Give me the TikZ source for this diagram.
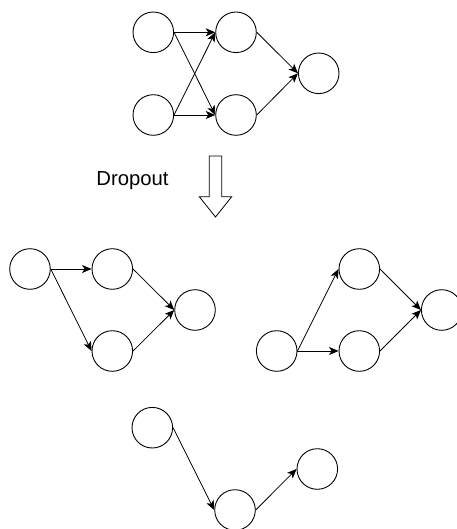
\documentclass[tikz,border=0pt]{standalone}
\usepackage{fontspec}
\setmainfont{Liberation Sans}
\usetikzlibrary{arrows.meta}

\begin{document}
\begin{tikzpicture}[x=1pt, y=-1pt,
    neuron/.style={draw, circle, minimum size=40.6pt, inner sep=0pt, line width=0.9pt},
    link/.style={line width=0.8pt, -{Stealth[length=9.5pt, width=8pt, inset=2.5pt]}}]
    \useasboundingbox (0,0) rectangle (456,529);
    % Full network.
        \node[neuron] (in1) at (153.3, 32.3) {};
        \node[neuron] (in2) at (153.3, 115) {};
        \node[neuron] (h1) at (236, 32.3) {};
        \node[neuron] (h2) at (236, 115) {};
        \node[neuron] (out) at (318.7, 73.3) {};
        \draw[link] (in1.east) -- (h1.west);
        \draw[link] (in1.east) -- (h2.west);
        \draw[link] (in2.east) -- (h1.west);
        \draw[link] (in2.east) -- (h2.west);
        \draw[link] (h1.east) -- (out.west);
        \draw[link] (h2.east) -- (out.west);
    % Label and the big hollow arrow.
        \node (drop) at (132.5, 181) {\fontsize{20.3}{24}\selectfont Dropout};
        \draw[line width=0.8pt] (209.3,156) -- (221.7,156) -- (221.7,196.7) -- (231.7,196.7)
            -- (215.5,217) -- (199.3,196.7) -- (209.3,196.7) -- cycle;
    % Thinned network on the left.
        \node[neuron] (a1) at (30, 269) {};
        \node[neuron] (a2) at (112.3, 269) {};
        \node[neuron] (a3) at (112.3, 351) {};
        \node[neuron] (a4) at (195, 310) {};
        \draw[link] (a1.east) -- (a2.west);
        \draw[link] (a1.east) -- (a3.west);
        \draw[link] (a2.east) -- (a4.west);
        \draw[link] (a3.east) -- (a4.west);
    % Thinned network on the right.
        \node[neuron] (b1) at (276.7, 351) {};
        \node[neuron] (b2) at (359.3, 269) {};
        \node[neuron] (b3) at (359.3, 351) {};
        \node[neuron] (b4) at (441.7, 310) {};
        \draw[link] (b1.east) -- (b2.west);
        \draw[link] (b1.east) -- (b3.west);
        \draw[link] (b2.east) -- (b4.west);
        \draw[link] (b3.east) -- (b4.west);
    % Thinned network at the bottom.
        \node[neuron] (c1) at (152.3, 427.7) {};
        \node[neuron] (c2) at (235, 510) {};
        \node[neuron] (c3) at (317.3, 469) {};
        \draw[link] (c1.east) -- (c2.west);
        \draw[link] (c2.east) -- (c3.west);
\end{tikzpicture}
\end{document}
